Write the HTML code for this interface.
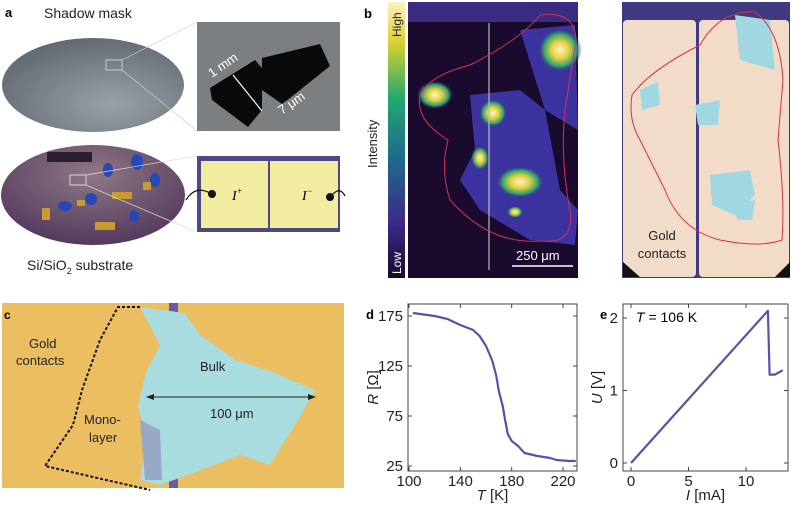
<!DOCTYPE html>
<html><head><meta charset="utf-8">
<style>
html,body{margin:0;padding:0;background:#fff;}
svg{display:block;font-family:"Liberation Sans",sans-serif;}
</style></head>
<body>
<svg id="fig" width="793" height="505" viewBox="0 0 793 505" xmlns="http://www.w3.org/2000/svg">
<defs>
<linearGradient id="cbar" x1="0" y1="1" x2="0" y2="0">
<stop offset="0" stop-color="#160a2a"/><stop offset="0.2" stop-color="#3b2a8a"/><stop offset="0.45" stop-color="#1f6f8c"/><stop offset="0.65" stop-color="#22a86e"/><stop offset="0.85" stop-color="#d8d030"/><stop offset="1" stop-color="#fff0c0"/>
</linearGradient>
<radialGradient id="gmask" cx="0.6" cy="0.7" r="0.8"><stop offset="0" stop-color="#9aa0a8"/><stop offset="1" stop-color="#5d636b"/></radialGradient>
<radialGradient id="gsub" cx="0.5" cy="0.3" r="0.8"><stop offset="0" stop-color="#8f7884"/><stop offset="1" stop-color="#4a3058"/></radialGradient>
<radialGradient id="spot" cx="0.5" cy="0.5" r="0.5"><stop offset="0" stop-color="#fff2c8"/><stop offset="0.4" stop-color="#e2d040"/><stop offset="0.75" stop-color="#30a070"/><stop offset="1" stop-color="#3b2a8a" stop-opacity="0"/></radialGradient>
</defs>

<!-- Panel a -->
<g>
<text x="5" y="17" font-size="13" font-weight="bold">a</text>
<text x="44" y="18" font-size="14" fill="#222">Shadow mask</text>
<ellipse cx="93" cy="85" rx="91" ry="47" fill="url(#gmask)"/>
<rect x="106" y="60" width="16" height="10" fill="none" stroke="#ddd" stroke-width="0.8"/>
<line x1="122" y1="60" x2="197" y2="22" stroke="#ccc" stroke-width="0.7"/>
<line x1="122" y1="70" x2="197" y2="131" stroke="#ccc" stroke-width="0.7"/>
<rect x="197" y="22" width="143" height="109" fill="#7c7f82"/>
<polygon points="210,88 255,60 262,68 262,110 248,127 212,100" fill="#0a0a0a"/>
<polygon points="262,58 320,44 330,66 290,98 282,104 262,90" fill="#0a0a0a"/>
<line x1="233" y1="75" x2="262" y2="111" stroke="#fff" stroke-width="1.2"/>
<text x="212" y="78" font-size="13" fill="#fff" transform="rotate(-35 212 78)">1 mm</text>
<text x="282" y="115" font-size="13" fill="#fff" transform="rotate(-35 282 115)">7 μm</text>
<ellipse cx="93" cy="195" rx="92" ry="50" fill="url(#gsub)"/>
<rect x="47" y="152" width="45" height="10" fill="#2a2030"/>
<g fill="#2848b8"><ellipse cx="108" cy="170" rx="5" ry="7"/><ellipse cx="137" cy="162" rx="6" ry="8"/><ellipse cx="155" cy="180" rx="5" ry="7"/><ellipse cx="65" cy="206" rx="7" ry="5"/><ellipse cx="91" cy="199" rx="6" ry="6"/><ellipse cx="134" cy="216" rx="5" ry="6"/></g>
<g fill="#c89a30"><rect x="42" y="208" width="8" height="12"/><rect x="77" y="200" width="8" height="6"/><rect x="112" y="192" width="20" height="7"/><rect x="95" y="222" width="20" height="8"/><rect x="143" y="182" width="8" height="8"/></g>
<rect x="70" y="175" width="16" height="10" fill="none" stroke="#eee" stroke-width="0.8"/>
<line x1="86" y1="175" x2="196" y2="156" stroke="#ddd" stroke-width="0.7"/>
<line x1="86" y1="185" x2="196" y2="232" stroke="#ddd" stroke-width="0.7"/>
<rect x="197" y="156" width="143" height="76" fill="#4d4888"/>
<rect x="201" y="161" width="67" height="67" fill="#f2eca0"/>
<rect x="270" y="161" width="68" height="67" fill="#f2eca0"/>
<path d="M186,200 Q195,185 210,193" stroke="#111" stroke-width="1.2" fill="none"/>
<circle cx="212" cy="194" r="4" fill="#111"/>
<circle cx="330" cy="197" r="4" fill="#111"/>
<path d="M332,195 Q340,186 345,196" stroke="#111" stroke-width="1.2" fill="none"/>
<text x="232" y="200" font-size="14" font-style="italic" font-family="Liberation Serif,serif">I<tspan dy="-6" font-size="9">+</tspan></text>
<text x="302" y="200" font-size="14" font-style="italic" font-family="Liberation Serif,serif">I<tspan dy="-6" font-size="9">−</tspan></text>
<text x="27" y="270" font-size="14" fill="#222">Si/SiO<tspan dy="4" font-size="9">2</tspan><tspan dy="-4"> substrate</tspan></text>
</g>

<!-- Panel b -->
<g>
<text x="364" y="18" font-size="13" font-weight="bold">b</text>
<rect x="388" y="2" width="17" height="276" fill="url(#cbar)"/>
<text transform="translate(401 37) rotate(-90)" font-size="12" fill="#222">High</text>
<text transform="translate(401 274) rotate(-90)" font-size="12" fill="#fff">Low</text>
<text transform="translate(377 168) rotate(-90)" font-size="13" fill="#222">Intensity</text>
<rect x="408" y="2" width="170" height="276" fill="#1a0b2e"/>
<rect x="408" y="2" width="170" height="20" fill="#3a2c80"/>
<polygon points="470,95 520,90 545,110 560,190 578,210 575,245 530,240 480,210 460,180 475,150" fill="#3d33a0"/>
<polygon points="520,30 575,25 578,130 545,110" fill="#3d33a0"/>
<ellipse cx="435" cy="95" rx="18" ry="14" fill="url(#spot)"/>
<ellipse cx="493" cy="113" rx="14" ry="14" fill="url(#spot)"/>
<ellipse cx="560" cy="50" rx="22" ry="22" fill="url(#spot)"/>
<ellipse cx="520" cy="182" rx="24" ry="16" fill="url(#spot)"/>
<ellipse cx="480" cy="158" rx="9" ry="12" fill="url(#spot)"/>
<ellipse cx="515" cy="212" rx="8" ry="6" fill="url(#spot)"/>
<line x1="489" y1="23" x2="489" y2="270" stroke="#bbb" stroke-width="1.2"/>
<path d="M420,95 Q430,75 470,65 Q520,40 540,15 Q575,10 576,40 L565,110 Q560,160 570,210 Q575,245 540,241 Q490,245 450,200 Q440,170 448,140 Q415,120 420,95Z" fill="none" stroke="#d03060" stroke-width="1"/>
<line x1="512" y1="266" x2="573" y2="266" stroke="#fff" stroke-width="1.5"/>
<text x="516" y="260" font-size="13" fill="#fff">250 μm</text>
<rect x="622" y="2" width="168" height="276" fill="#403a80"/>
<rect x="623" y="20" width="73" height="257" rx="4" fill="#f0dcc8"/>
<rect x="699" y="20" width="90" height="257" rx="4" fill="#f2dcc8"/>
<polygon points="623,262 640,277 623,277" fill="#111"/>
<polygon points="790,262 775,277 790,277" fill="#111"/>
<g fill="#9fd8e0"><polygon points="640,90 658,82 660,105 642,110"/><polygon points="695,105 720,100 718,125 698,125"/><polygon points="710,175 750,170 755,195 735,215 712,205"/><polygon points="735,15 770,20 775,70 740,60"/><polygon points="730,205 755,200 752,220 738,220"/></g>
<path d="M632,95 Q650,70 700,45 Q720,10 755,12 Q780,30 783,80 L778,140 Q785,200 782,240 Q760,248 720,240 Q680,230 665,190 Q650,160 640,140 Q628,120 632,95Z" fill="none" stroke="#d8304a" stroke-width="1"/>
<text x="662" y="240" font-size="13" fill="#222" text-anchor="middle">Gold</text>
<text x="662" y="258" font-size="13" fill="#222" text-anchor="middle">contacts</text>
</g>

<!-- Panel c -->
<g>
<rect x="2" y="303" width="342" height="185" fill="#ebbe62"/>
<rect x="169" y="303" width="9" height="185" fill="#6a58a8"/>
<polygon points="140,307 185,313 200,335 236,360 272,372 315,390 298,420 270,465 240,455 196,472 160,485 140,480 146,438 138,406 146,372 160,345" fill="#a8dcde"/>
<polygon points="140,420 160,430 162,480 145,480" fill="#9aa8c8"/>
<path d="M140,307 L118,307 L100,340 L82,390 L73,425 L45,466 L150,490" fill="none" stroke="#111" stroke-width="2" stroke-dasharray="3,2"/>
<text x="4" y="319" font-size="12" font-weight="bold">c</text>
<text x="29" y="348" font-size="13" fill="#222">Gold</text>
<text x="16" y="365" font-size="13" fill="#222">contacts</text>
<text x="200" y="371" font-size="13" fill="#222">Bulk</text>
<text x="84" y="424" font-size="13" fill="#222">Mono-</text>
<text x="89" y="442" font-size="13" fill="#222">layer</text>
<line x1="148" y1="397" x2="314" y2="397" stroke="#222" stroke-width="1"/>
<polygon points="146,397 154,394 154,400" fill="#222"/><polygon points="316,397 308,394 308,400" fill="#222"/>
<text x="210" y="418" font-size="13" fill="#222">100 μm</text>
</g>

<!-- Chart d -->
<g id="chartD">
<text x="366" y="319" font-size="13" font-weight="bold">d</text>
</g>
<!-- Chart e -->
<g id="chartE">
<text x="600" y="319" font-size="13" font-weight="bold">e</text>
<text x="636" y="322" font-size="14"><tspan font-style="italic">T</tspan> = 106 K</text>
</g>
</svg>
<script>
// Chart d data
const dTemps = [103,120,130,140,150,155,160,165,168,170,173,175,177,180,185,190,200,210,215,225,230];
const dRes   = [178,175,172,166,161,155,145,130,115,100,85,70,57,50,45,38,35,33,31,30,30];
const dXTicks = [100,140,180,220];
const dYTicks = [25,75,125,175];
// Chart e data
const eCurrent = [0,11.9,12.05,12.5,13.2];
const eVoltage = [0,2.1,1.22,1.22,1.28];
const eXTicks = [0,5,10];
const eYTicks = [0,1,2];

const NS='http://www.w3.org/2000/svg';
function mk(parent,tag,attrs){const e=document.createElementNS(NS,tag);for(const k in attrs)e.setAttribute(k,attrs[k]);parent.appendChild(e);return e;}

function drawChart(g, box, xs, ys, xT, yT, xMap, yMap, xLabel, yLabel, prefix, yTitleX){
  const f=mk(g,'rect',{x:box.x,y:box.y,width:box.w,height:box.h,fill:'none',stroke:'#444','stroke-width':1});
  
  
  xT.forEach(v=>{const x=xMap(v);
    mk(g,'line',{x1:x,y1:box.y+box.h,x2:x,y2:box.y+box.h-4,stroke:'#444'});
    mk(g,'line',{x1:x,y1:box.y,x2:x,y2:box.y+4,stroke:'#444'});
    const t=mk(g,'text',{x:x,y:box.y+box.h+15,'font-size':15,'text-anchor':'middle',fill:'#222'});t.textContent=v;
    
    });
  yT.forEach(v=>{const y=yMap(v);
    mk(g,'line',{x1:box.x,y1:y,x2:box.x+4,y2:y,stroke:'#444'});
    mk(g,'line',{x1:box.x+box.w,y1:y,x2:box.x+box.w-4,y2:y,stroke:'#444'});
    const t=mk(g,'text',{x:box.x-5,y:y+5,'font-size':15,'text-anchor':'end',fill:'#222'});t.textContent=v;
    
    });
  const pts=xs.map((v,i)=>xMap(v).toFixed(1)+','+yMap(ys[i]).toFixed(1)).join(' ');
  const l=mk(g,'polyline',{points:pts,fill:'none',stroke:'#5a52a8','stroke-width':2.2,'stroke-linejoin':'round'});
  
  
  const xl=mk(g,'text',{x:box.x+box.w/2,y:box.y+box.h+29,'font-size':15,'text-anchor':'middle',fill:'#222'});
  xl.innerHTML=xLabel;
  
  
  const yl=mk(g,'text',{transform:`translate(${yTitleX} ${box.y+box.h/2}) rotate(-90)`,'font-size':15,'text-anchor':'middle',fill:'#222'});
  yl.innerHTML=yLabel;
  
  
}
const dBox={x:408,y:304,w:169,h:167};
drawChart(document.getElementById('chartD'),dBox,dTemps,dRes,dXTicks,dYTicks,
  v=>409+(v-100)*(154/120), v=>466-(v-25)*(150/150),
  '<tspan font-style="italic">T</tspan> [K]','<tspan font-style="italic">R</tspan> [Ω]','d',378);
const eBox={x:623,y:304,w:165,h:167};
drawChart(document.getElementById('chartE'),eBox,eCurrent,eVoltage,eXTicks,eYTicks,
  v=>631+v*11.5, v=>463-v*72.5,
  '<tspan font-style="italic">I</tspan> [mA]','<tspan font-style="italic">U</tspan> [V]','e',602);
</script>
</body></html>
